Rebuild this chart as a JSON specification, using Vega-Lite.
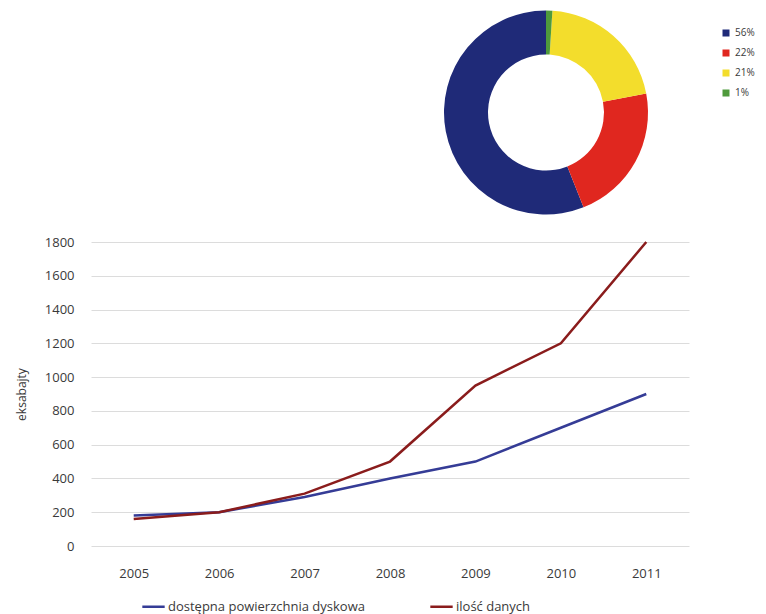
{
  "$schema": "https://vega.github.io/schema/vega-lite/v6.json",
  "padding": {"left": 15, "top": 5, "right": 5, "bottom": 5},
  "background": "white",
  "config": {
    "view": {"stroke": null},
    "font": "Open Sans",
    "axis": {"labelFont": "Open Sans", "titleFont": "Open Sans", "labelColor": "#3a3a3a", "titleColor": "#3a3a3a"},
    "legend": {"labelFont": "Open Sans", "labelColor": "#3a3a3a"}
  },
  "datasets": {
    "donut": [
      {"udzial": "56%", "value": 56},
      {"udzial": "22%", "value": 22},
      {"udzial": "21%", "value": 21},
      {"udzial": "1%", "value": 1}
    ],
    "lines": [
      {"rok": "2005", "seria": "dostępna powierzchnia dyskowa", "eksabajty": 180},
      {"rok": "2006", "seria": "dostępna powierzchnia dyskowa", "eksabajty": 200},
      {"rok": "2007", "seria": "dostępna powierzchnia dyskowa", "eksabajty": 290},
      {"rok": "2008", "seria": "dostępna powierzchnia dyskowa", "eksabajty": 400},
      {"rok": "2009", "seria": "dostępna powierzchnia dyskowa", "eksabajty": 500},
      {"rok": "2010", "seria": "dostępna powierzchnia dyskowa", "eksabajty": 700},
      {"rok": "2011", "seria": "dostępna powierzchnia dyskowa", "eksabajty": 900},
      {"rok": "2005", "seria": "ilość danych", "eksabajty": 160},
      {"rok": "2006", "seria": "ilość danych", "eksabajty": 200},
      {"rok": "2007", "seria": "ilość danych", "eksabajty": 310},
      {"rok": "2008", "seria": "ilość danych", "eksabajty": 500},
      {"rok": "2009", "seria": "ilość danych", "eksabajty": 950},
      {"rok": "2010", "seria": "ilość danych", "eksabajty": 1200},
      {"rok": "2011", "seria": "ilość danych", "eksabajty": 1800}
    ]
  },
  "resolve": {"scale": {"color": "independent"}, "legend": {"color": "independent"}},
  "vconcat": [
    {
      "spacing": 20,
      "hconcat": [
        {
          "width": 275,
          "height": 215,
          "data": {"values": [{}]},
          "mark": {"type": "text"},
          "encoding": {"text": {"value": ""}}
        },
        {
          "width": 320,
          "height": 215,
          "data": {"name": "donut"},
          "mark": {"type": "arc", "outerRadius": 102, "innerRadius": 58},
          "encoding": {
            "theta": {"field": "value", "type": "quantitative", "stack": true},
            "order": {"field": "value", "type": "quantitative", "sort": "ascending"},
            "color": {
              "field": "udzial",
              "type": "nominal",
              "scale": {"domain": ["56%", "22%", "21%", "1%"], "range": ["#1f2a78", "#e0271f", "#f3dd2c", "#4f9a3c"]},
              "legend": {
                "title": null,
                "symbolType": "square",
                "symbolSize": 49,
                "symbolStrokeWidth": 0,
                "labelFontSize": 10,
                "rowPadding": 10,
                "offset": -8,
                "padding": 23
              }
            }
          }
        }
      ]
    },
    {
      "width": 598,
      "height": 304,
      "data": {"name": "lines"},
      "mark": {"type": "line", "strokeWidth": 2.5},
      "encoding": {
        "x": {
          "field": "rok",
          "type": "ordinal",
          "scale": {"type": "point", "padding": 0.5},
          "axis": {"title": null, "labelAngle": 0, "ticks": false, "domain": false, "labelPadding": 21, "labelFontSize": 13, "grid": false}
        },
        "y": {
          "field": "eksabajty",
          "type": "quantitative",
          "scale": {"domain": [0, 1800]},
          "axis": {
            "title": "eksabajty",
            "values": [0, 200, 400, 600, 800, 1000, 1200, 1400, 1600, 1800],
            "format": "d",
            "ticks": false,
            "domain": false,
            "labelPadding": 17,
            "labelFontSize": 13,
            "titleFontSize": 12,
            "titleFontWeight": "normal",
            "titlePadding": 8,
            "minExtent": 55,
            "gridColor": "#dcdcdc"
          }
        },
        "color": {
          "field": "seria",
          "type": "nominal",
          "scale": {"domain": ["dostępna powierzchnia dyskowa", "ilość danych"], "range": ["#353c96", "#8a1c1c"]},
          "legend": {
            "title": null,
            "orient": "none",
            "legendX": 50,
            "legendY": 352,
            "direction": "horizontal",
            "symbolType": "stroke",
            "symbolStrokeWidth": 2.5,
            "symbolSize": 500,
            "labelFontSize": 13,
            "labelLimit": 400,
            "labelOffset": 2,
            "columnPadding": 60
          }
        }
      }
    }
  ],
  "spacing": 16
}
